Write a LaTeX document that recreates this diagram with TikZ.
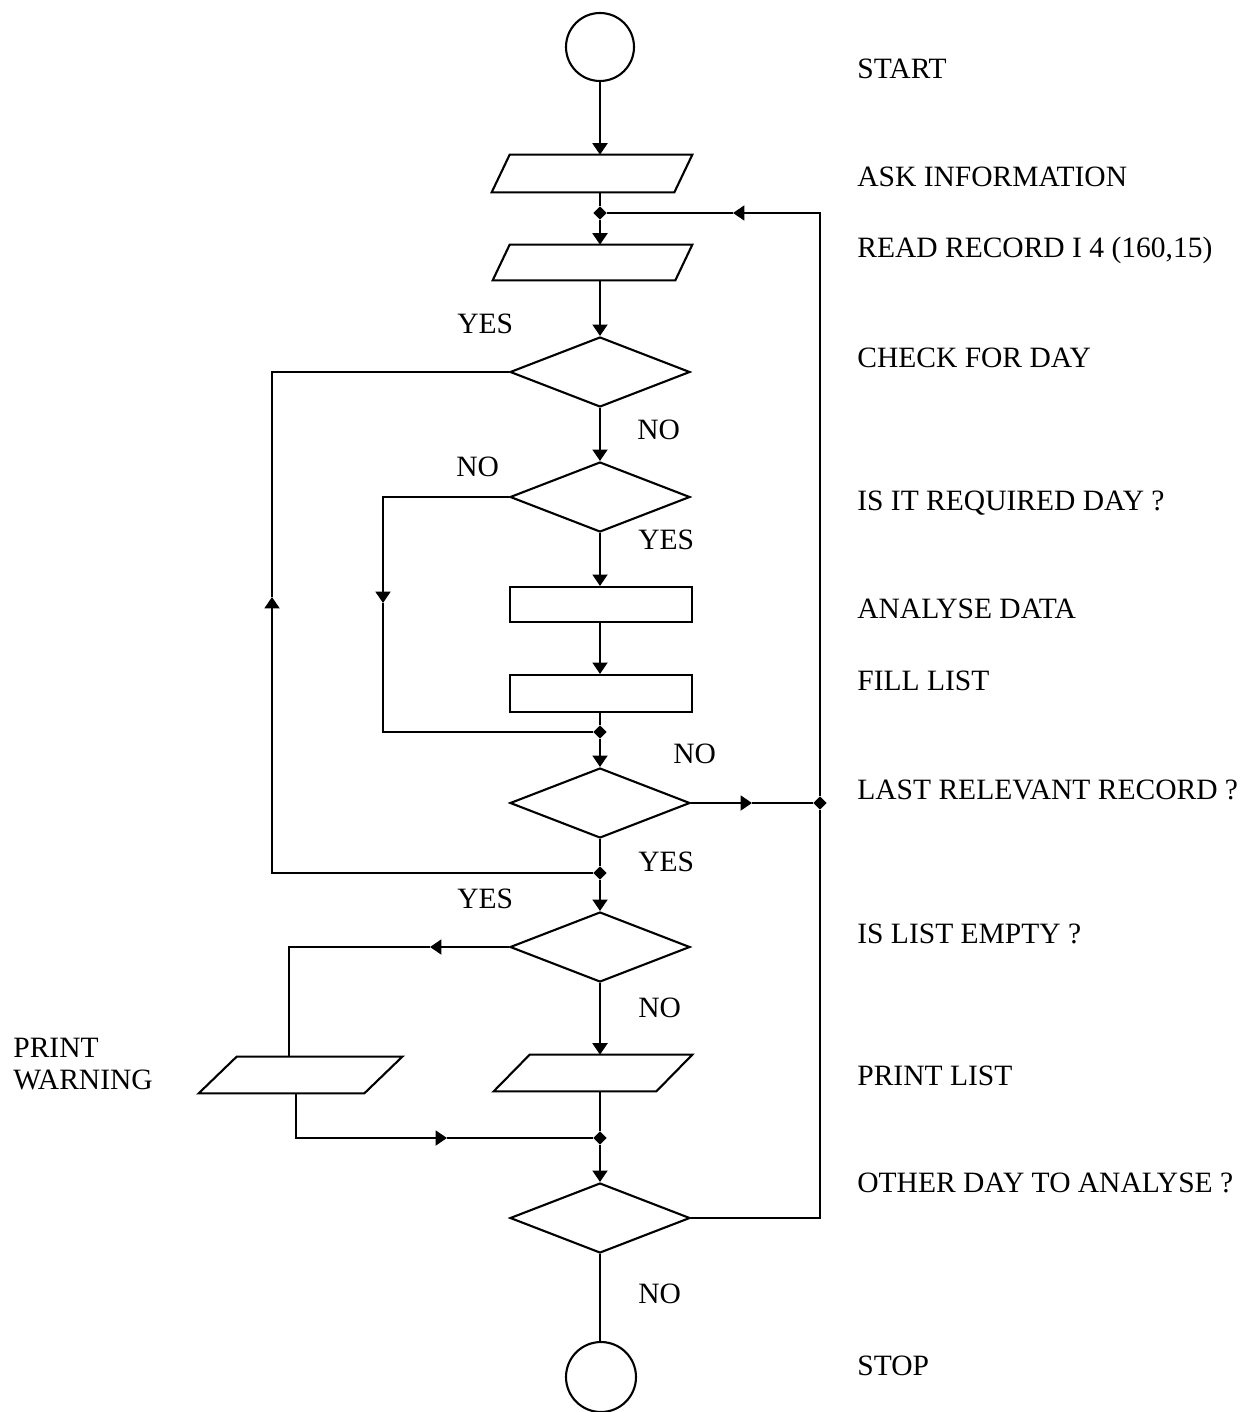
\documentclass[tikz,border=0pt]{standalone}
\usepackage{fontspec}
\setmainfont{Liberation Serif}
\usetikzlibrary{arrows.meta,shapes.geometric,calc}
\newcommand{\chartfont}{\fontsize{16.8}{18}\selectfont}
% parallelogram on top of a (hidden) box node: #1 node, #2 slant in px
\newcommand{\drawio}[2]{%
  \draw[line width=1.2pt] ($(#1.north west)+(#2,0)$) -- (#1.north east)
    -- ($(#1.south east)+(-#2,0)$) -- (#1.south west) -- cycle;}

\tikzset{
  flowline/.style={line width=1.2pt},
  flow/.style={flowline,-{Triangle[width=8.5pt,length=6.5pt]}},
  term/.style={circle,draw,line width=1.2pt,inner sep=0pt},
  decision/.style={diamond,draw,line width=1.2pt,inner sep=0pt,
    minimum width=3.6cm,minimum height=1.4cm},
  process/.style={rectangle,draw,line width=1.2pt,inner sep=0pt,
    minimum width=3.64cm},
  iobox/.style={rectangle,inner sep=0pt},
  junction/.style={diamond,fill,inner sep=0pt,minimum size=0.27cm},
  lbl/.style={font=\chartfont,inner sep=0pt,anchor=base west}
}

\begin{document}
\begin{tikzpicture}[x=0.02cm,y=-0.02cm]
  \useasboundingbox (0,0) rectangle (1256,1412);

  % Main column
  \node[term,minimum size=1.36cm] (start) at (600,47) {};
  \node[iobox,minimum width=4cm,minimum height=0.74cm] (ask) at (592,173.5) {};
  \drawio{ask}{18}
  \node[junction] (j1) at (600,213) {};
  \node[iobox,minimum width=3.98cm,minimum height=0.7cm] (read) at (592.5,262.5) {};
  \drawio{read}{17}
  \node[decision] (d1) at (600,372) {};
  \node[decision] (d2) at (600,497) {};
  \node[process,minimum height=0.7cm] (analyse) at (601,604.5) {};
  \node[process,minimum height=0.74cm] (fill) at (601,693.5) {};
  \node[junction] (j3) at (600,732) {};
  \node[decision] (d3) at (600,803) {};
  \node[junction] (j2) at (820,803) {};
  \node[junction] (j4) at (600,873) {};
  \node[decision] (d4) at (600,947) {};
  \node[iobox,minimum width=3.96cm,minimum height=0.72cm] (plist) at (593,1073) {};
  \drawio{plist}{36}
  \node[iobox,minimum width=4.06cm,minimum height=0.72cm] (warn) at (300.5,1075) {};
  \drawio{warn}{38}
  \node[junction] (j5) at (600,1138) {};
  \node[decision] (d5) at (600,1218) {};
  \node[term,minimum size=1.4cm] (stop) at (601,1377) {};

  % Arrow points on the side lines
  \coordinate (toL) at (733,213);
  \coordinate (toR) at (752,803);
  \coordinate (upL) at (272,597);
  \coordinate (downL) at (383,603);
  \coordinate (wLeft) at (430,947);
  \coordinate (wRight) at (447,1138);

  % Straight flow
  \draw[flow] (start) -- (start |- ask.north);
  \draw[flowline] (start |- ask.south) -- (j1);
  \draw[flow] (j1) -- (j1 |- read.north);
  \draw[flow] (j1 |- read.south) -- (d1.north);
  \draw[flow] (d1.south) -- (d2.north);
  \draw[flow] (d2.south) -- (d2.south |- analyse.north);
  \draw[flow] (d2.south |- analyse.south) -- (d2.south |- fill.north);
  \draw[flowline] (d2.south |- fill.south) -- (j3);
  \draw[flow] (j3) -- (d3.north);
  \draw[flowline] (d3.south) -- (j4);
  \draw[flow] (j4) -- (d4.north);
  \draw[flow] (d4.south) -- (d4.south |- plist.north);
  \draw[flowline] (d4.south |- plist.south) -- (j5);
  \draw[flow] (j5) -- (d5.north);
  \draw[flowline] (d5.south) -- (d5.south |- stop.north);

  % Right loop
  \draw[flow] (d3.east) -- (toR);
  \draw[flowline] (toR) -- (j2);
  \draw[flow] (j2) |- (toL);
  \draw[flowline] (toL) -- (j1);
  \draw[flowline] (d5.east) -| (j2);

  % Left loops
  \draw[flow] (j4) -| (upL);
  \draw[flowline] (upL) |- (d1.west);
  \draw[flow] (d2.west) -| (downL);
  \draw[flowline] (downL) |- (j3);
  \draw[flow] (d4.west) -- (wLeft);
  \draw[flowline] (wLeft) -| ($(warn.north)+(-11.5,0)$);
  \draw[flow] ($(warn.south)+(-4.5,0)$) |- (wRight);
  \draw[flowline] (wRight) -- (j5);

  % Branch labels
  \node[lbl] (y1) at (457,334) {YES};
  \node[lbl] (n1) at (637,439) {NO};
  \node[lbl] (n2) at (456,476) {NO};
  \node[lbl] (y2) at (638,549) {YES};
  \node[lbl] (n3) at (673,763) {NO};
  \node[lbl] (y3) at (638,871) {YES};
  \node[lbl] (y4) at (457,908) {YES};
  \node[lbl] (n4) at (638,1017) {NO};
  \node[lbl] (n5) at (638,1303) {NO};

  % Step captions
  \node[lbl] (tstart) at (857,79) {START};
  \node[lbl] (task) at (857,187) {ASK INFORMATION};
  \node[lbl] (tread) at (857,258) {READ RECORD I 4 (160,15)};
  \node[lbl] (tcheck) at (857,367) {CHECK FOR DAY};
  \node[lbl] (treq) at (857,510) {IS IT REQUIRED DAY ?};
  \node[lbl] (tanal) at (857,618) {ANALYSE DATA};
  \node[lbl] (tfill) at (857,690) {FILL LIST};
  \node[lbl] (tlast) at (857,799) {LAST RELEVANT RECORD ?};
  \node[lbl] (tempty) at (857,943) {IS LIST EMPTY ?};
  \node[lbl] (tprint) at (857,1085) {PRINT LIST};
  \node[lbl] (tother) at (857,1192) {OTHER DAY TO ANALYSE ?};
  \node[lbl] (tstop) at (857,1375) {STOP};
  \node[lbl,align=left] (twarn) at (13,1089) {PRINT\\WARNING};
\end{tikzpicture}
\end{document}
